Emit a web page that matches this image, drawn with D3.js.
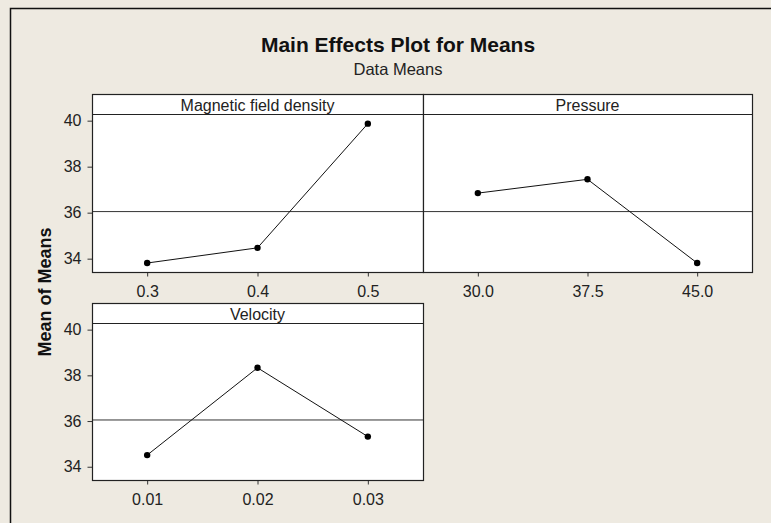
<!DOCTYPE html>
<html lang="en">
<head>
<meta charset="UTF-8">
<script src="https://d3js.org/d3.v7.min.js"></script>
<style>
  body { margin: 0; background: #eeeae1; }
  svg text { font-family: "Liberation Sans", Arial, sans-serif; fill: #222; }
</style>
</head>
<body>
<div id="chart"></div>
<script>
// factor names and levels
const factors = ["Magnetic field density", "Pressure", "Velocity"];
const magLevels = ["0.3", "0.4", "0.5"];
const magMeans = [33.81, 34.47, 39.87];
const presLevels = ["30.0", "37.5", "45.0"];
const presMeans = [36.85, 37.45, 33.81];
const velLevels = ["0.01", "0.02", "0.03"];
const velMeans = [34.51, 38.33, 35.32];
const yTicks = [34, 36, 38, 40];

const width = 771, height = 523;
const stripH = 20;
const yDomain = [33.42, 40.29];

// grand mean (all factors share it)
const grandMean = d3.mean(magMeans.concat(presMeans, velMeans));

const panels = [
  { name: factors[0], levels: magLevels, means: magMeans, x0: 92, x1: 423, y0: 94, y1: 272, yaxis: true },
  { name: factors[1], levels: presLevels, means: presMeans, x0: 423, x1: 752, y0: 94, y1: 272, yaxis: false },
  { name: factors[2], levels: velLevels, means: velMeans, x0: 92, x1: 423, y0: 303, y1: 480, yaxis: true }
];

const svg = d3.select("#chart").append("svg")
    .attr("width", width)
    .attr("height", height)
    .attr("viewBox", [0, 0, width, height]);

svg.append("rect")
    .attr("width", width).attr("height", height)
    .attr("fill", "#eeeae1");

// outer frame (cut at right and bottom in the original)
svg.append("path")
    .attr("d", `M10.5,${height + 2}V8.5H${width + 2}`)
    .attr("fill", "none")
    .attr("stroke", "#111")
    .attr("stroke-width", 1.5);

svg.append("text")
    .attr("x", 398).attr("y", 52)
    .attr("text-anchor", "middle")
    .style("font-size", "21px")
    .style("font-weight", "bold")
    .style("fill", "#111")
    .text("Main Effects Plot for Means");

svg.append("text")
    .attr("x", 398).attr("y", 75)
    .attr("text-anchor", "middle")
    .style("font-size", "16.5px")
    .text("Data Means");

svg.append("text")
    .attr("transform", "translate(51,292) rotate(-90)")
    .attr("text-anchor", "middle")
    .style("font-size", "18px")
    .style("font-weight", "bold")
    .style("fill", "#111")
    .text("Mean of Means");

panels.forEach(p => {
  const g = svg.append("g");
  const top = p.y0 + stripH;

  const x = d3.scalePoint(p.levels, [p.x0, p.x1]).padding(0.5);
  const y = d3.scaleLinear(yDomain, [p.y1, top]);

  g.append("rect")
      .attr("x", p.x0 + 0.5).attr("y", p.y0 + 0.5)
      .attr("width", p.x1 - p.x0).attr("height", p.y1 - p.y0)
      .attr("fill", "#fff");

  // x axis
  const xAxis = g.append("g")
      .attr("transform", `translate(0,${p.y1 + 0.5})`)
      .call(d3.axisBottom(x).tickSize(4).tickSizeOuter(0).tickPadding(9));
  xAxis.select(".domain").remove();
  xAxis.selectAll("text").style("font-size", "16px").attr("fill", "#333");
  xAxis.selectAll(".tick line").attr("stroke", "#333");

  if (p.yaxis) {
    const yAxis = g.append("g")
        .attr("transform", `translate(${p.x0 + 0.5},0)`)
        .call(d3.axisLeft(y).tickValues(yTicks).tickFormat(d3.format("d")).tickSize(5).tickPadding(6));
    yAxis.select(".domain").remove();
    yAxis.selectAll("text").style("font-size", "16px").attr("fill", "#333");
    yAxis.selectAll(".tick line").attr("stroke", "#333");
  }

  // reference line at grand mean
  g.append("line")
      .attr("x1", p.x0).attr("x2", p.x1)
      .attr("y1", y(grandMean)).attr("y2", y(grandMean))
      .attr("stroke", "#333")
      .attr("stroke-width", 1);

  const line = d3.line()
      .x((d, i) => x(p.levels[i]))
      .y(d => y(d));

  g.append("path")
      .attr("d", line(p.means))
      .attr("fill", "none")
      .attr("stroke", "#111")
      .attr("stroke-width", 1);

  g.selectAll("circle")
    .data(p.means)
    .join("circle")
      .attr("cx", (d, i) => x(p.levels[i]))
      .attr("cy", d => y(d))
      .attr("r", 3.2)
      .attr("fill", "#000");

  // strip
  g.append("line")
      .attr("x1", p.x0).attr("x2", p.x1)
      .attr("y1", top + 0.5).attr("y2", top + 0.5)
      .attr("stroke", "#222");

  g.append("text")
      .attr("x", (p.x0 + p.x1) / 2)
      .attr("y", p.y0 + 16.5)
      .attr("text-anchor", "middle")
      .style("font-size", "16px")
      .attr("fill", "#333")
      .text(p.name);

  g.append("rect")
      .attr("x", p.x0 + 0.5).attr("y", p.y0 + 0.5)
      .attr("width", p.x1 - p.x0).attr("height", p.y1 - p.y0)
      .attr("fill", "none")
      .attr("stroke", "#222")
      .attr("stroke-width", 1.2);
});
</script>
</body>
</html>
